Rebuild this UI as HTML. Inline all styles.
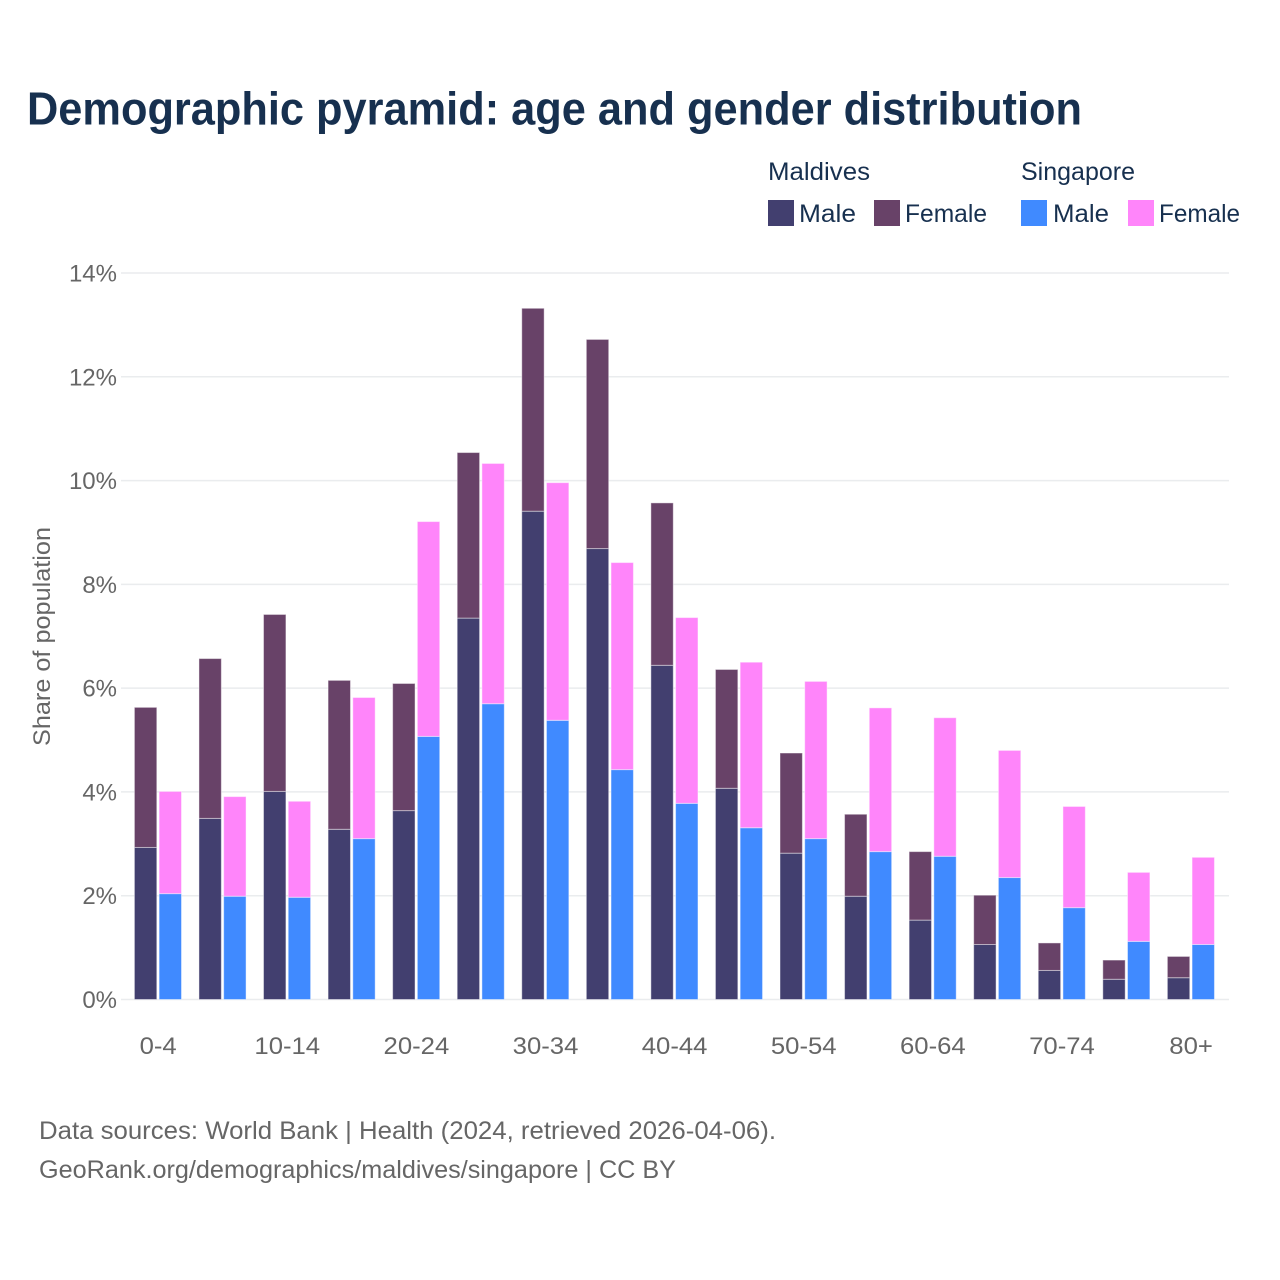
<!DOCTYPE html>
<html lang="en">
<head>
<meta charset="utf-8">
<title>Demographic pyramid</title>
<style>
html,body{margin:0;padding:0;background:#fff;}
svg{display:block;}
text{font-family:"Liberation Sans",sans-serif;}
</style>
</head>
<body>
<svg id="chart" width="1280" height="1280" viewBox="0 0 1280 1280">
  <rect x="0" y="0" width="1280" height="1280" fill="#fff"/>
  <text x="27" y="124.5" font-size="46" font-weight="700" fill="#17304f" textLength="1055" lengthAdjust="spacingAndGlyphs">Demographic pyramid: age and gender distribution</text>

  <g>
    <text x="768" y="180" font-size="25" fill="#17304f" textLength="102" lengthAdjust="spacingAndGlyphs">Maldives</text>
    <text x="1021" y="180" font-size="25" fill="#17304f" textLength="114" lengthAdjust="spacingAndGlyphs">Singapore</text>
    <rect x="768" y="200" width="26" height="26" fill="#423f6f"/>
    <text x="799" y="222" font-size="25" fill="#17304f" textLength="57" lengthAdjust="spacingAndGlyphs">Male</text>
    <rect x="874" y="200" width="26" height="26" fill="#684268"/>
    <text x="905" y="222" font-size="25" fill="#17304f" textLength="82" lengthAdjust="spacingAndGlyphs">Female</text>
    <rect x="1021" y="200" width="26" height="26" fill="#408aff"/>
    <text x="1053" y="222" font-size="25" fill="#17304f" textLength="56" lengthAdjust="spacingAndGlyphs">Male</text>
    <rect x="1128" y="200" width="26" height="26" fill="#ff85fa"/>
    <text x="1159" y="222" font-size="25" fill="#17304f" textLength="81" lengthAdjust="spacingAndGlyphs">Female</text>
  </g>

  <g id="grid"></g>
  <g id="bars"></g>
  <g id="yticks"></g>
  <g id="xticks"></g>

  <text transform="translate(50 636.5) rotate(-90)" x="0" y="0" text-anchor="middle" font-size="24" fill="#666" textLength="219" lengthAdjust="spacingAndGlyphs">Share of population</text>

  <text x="39" y="1139" font-size="25" fill="#666" textLength="737" lengthAdjust="spacingAndGlyphs">Data sources: World Bank | Health (2024, retrieved 2026-04-06).</text>
  <text x="39" y="1178" font-size="25" fill="#666" textLength="637" lengthAdjust="spacingAndGlyphs">GeoRank.org/demographics/maldives/singapore | CC BY</text>
</svg>

<script>
const categories = ["0-4","5-9","10-14","15-19","20-24","25-29","30-34","35-39","40-44","45-49","50-54","55-59","60-64","65-69","70-74","75-79","80+"];
const categoryTickLabels = ["0-4","10-14","20-24","30-34","40-44","50-54","60-64","70-74","80+"];
const valueTicks = [0,2,4,6,8,10,12,14];
const maldivesMale = [2.93,3.49,4.01,3.28,3.64,7.35,9.41,8.69,6.44,4.07,2.82,1.99,1.53,1.06,0.56,0.39,0.42];
const maldivesFemale = [2.70,3.08,3.41,2.87,2.45,3.19,3.91,4.03,3.13,2.29,1.93,1.58,1.32,0.95,0.53,0.37,0.41];
const singaporeMale = [2.04,1.99,1.97,3.10,5.07,5.70,5.38,4.43,3.78,3.31,3.10,2.85,2.76,2.35,1.77,1.12,1.06];
const singaporeFemale = [1.97,1.92,1.85,2.72,4.14,4.63,4.58,3.99,3.58,3.19,3.03,2.77,2.67,2.45,1.95,1.33,1.68];

const NS = "http://www.w3.org/2000/svg";
const plotLeft = 121, plotRight = 1229, plotTop = 273, plotBottom = 999.5, maxValue = 14;
const bandStart = 126.1, bandStep = 64.56, barWidth = 22.4, barGap = 2.3, groupInset = 8.3;

function yScale(v){ return plotBottom - (v / maxValue) * (plotBottom - plotTop); }
function xBand(i){ return bandStart + i * bandStep; }
function make(tag, attrs, parent){
  const el = document.createElementNS(NS, tag);
  for (const k in attrs) el.setAttribute(k, attrs[k]);
  parent.appendChild(el);
  return el;
}

const gridGroup = document.getElementById("grid");
const yTickGroup = document.getElementById("yticks");
valueTicks.forEach(function(t){
  const line = make("line", {x1: plotLeft, x2: plotRight, y1: yScale(t), y2: yScale(t), stroke: "#eaecee", "stroke-width": 1.5}, gridGroup);
  
  
  const label = make("text", {x: 117, y: yScale(t) + 8.5, "text-anchor": "end", "font-size": 24, fill: "#666"}, yTickGroup);
  label.textContent = t + "%";
  
  
});

const xTickGroup = document.getElementById("xticks");
categoryTickLabels.forEach(function(name){
  const i = categories.indexOf(name);
  const label = make("text", {x: xBand(i) + groupInset + barWidth + barGap / 2 + 0.2, y: 1054, "text-anchor": "middle", "font-size": 24, fill: "#666"}, xTickGroup);
  label.textContent = name;
  
  
  label.setAttribute("textLength", (label.getComputedTextLength() * 1.07).toFixed(1));
  label.setAttribute("lengthAdjust", "spacingAndGlyphs");
});

const barGroup = document.getElementById("bars");
function drawBar(x, base, value, fill, edge){
  const top = yScale(base + value), bottom = yScale(base);
  const r = make("rect", {x: x, y: top, width: barWidth, height: bottom - top, fill: fill, stroke: edge, "stroke-width": 1}, barGroup);
  
  
}
categories.forEach(function(c, i){
  const x1 = xBand(i) + groupInset;
  const x2 = x1 + barWidth + barGap;
  const edge = "rgba(255,255,255,0.45)";
  drawBar(x1, 0, maldivesMale[i], "#423f6f", edge);
  drawBar(x1, maldivesMale[i], maldivesFemale[i], "#684268", edge);
  drawBar(x2, 0, singaporeMale[i], "#408aff", edge);
  drawBar(x2, singaporeMale[i], singaporeFemale[i], "#ff85fa", edge);
});
</script>
</body>
</html>
